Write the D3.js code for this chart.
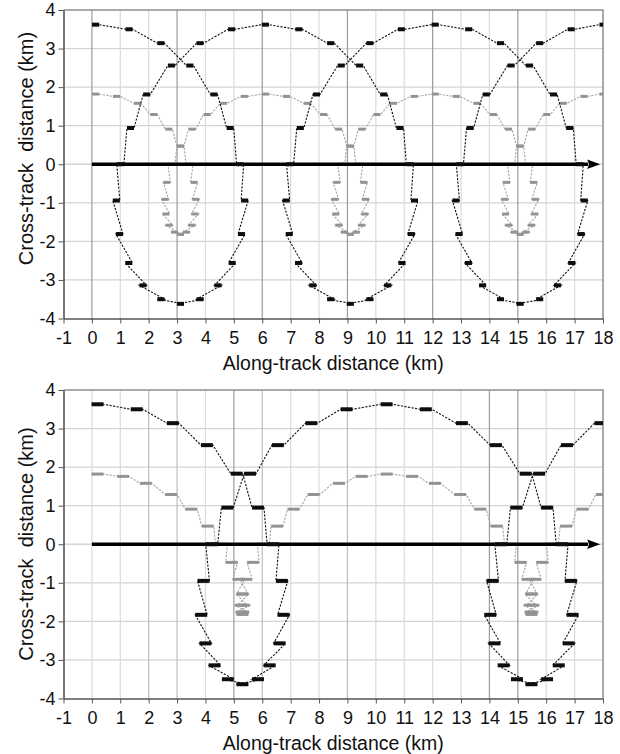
<!DOCTYPE html>
<html>
<head>
<meta charset="utf-8">
<script src="https://cdn.jsdelivr.net/npm/d3@7/dist/d3.min.js"></script>
<style>
  html, body { margin: 0; padding: 0; background: #fff; }
  svg text { font-family: "Liberation Sans", Arial, Helvetica, sans-serif; fill: #111; }
</style>
</head>
<body>
<svg id="chart" width="620" height="754"></svg>
<script>
// Tick labels shared by both panels (km)
const xTickLabels = [-1,0,1,2,3,4,5,6,7,8,9,10,11,12,13,14,15,16,17,18];
const yTickLabels = [4,3,2,1,0,-1,-2,-3,-4];

// Upper panel: outer scan (black) footprint centres, km
const topOuterX = [
  0.13,1.31,2.43,3.45,4.30,4.87,5.22,5.38,5.27,4.94,4.44,3.81,3.12,2.43,1.80,1.30,0.97,0.86,1.00,1.36,1.93,2.80,3.81,4.92,
  6.11,7.29,8.41,9.43,10.28,10.85,11.20,11.36,11.25,10.92,10.42,9.79,9.10,8.41,7.78,7.28,6.95,6.84,6.98,7.34,7.91,8.78,9.79,10.90,
  12.09,13.27,14.39,15.41,16.26,16.83,17.18,17.34,17.23,16.90,16.40,15.77,15.08,14.39,13.76,13.26,12.93,12.82,12.96,13.32,13.89,14.76,15.77,16.88,
  18.00];
const topOuterY = [
  3.62,3.50,3.14,2.56,1.81,0.94,0,-0.94,-1.81,-2.56,-3.14,-3.50,-3.62,-3.50,-3.14,-2.56,-1.81,-0.94,0,0.94,1.81,2.56,3.14,3.50,
  3.62,3.50,3.14,2.56,1.81,0.94,0,-0.94,-1.81,-2.56,-3.14,-3.50,-3.62,-3.50,-3.14,-2.56,-1.81,-0.94,0,0.94,1.81,2.56,3.14,3.50,
  3.62,3.50,3.14,2.56,1.81,0.94,0,-0.94,-1.81,-2.56,-3.14,-3.50,-3.62,-3.50,-3.14,-2.56,-1.81,-0.94,0,0.94,1.81,2.56,3.14,3.50,
  3.62];

// Upper panel: inner scan (grey)
const topInnerX = [
  0.13,0.87,1.60,2.18,2.71,3.12,3.44,3.60,3.66,3.63,3.52,3.33,3.12,2.91,2.72,2.61,2.58,2.64,2.80,3.12,3.53,4.06,4.64,5.37,
  6.11,6.85,7.58,8.16,8.69,9.10,9.42,9.58,9.64,9.61,9.50,9.31,9.10,8.89,8.70,8.59,8.56,8.62,8.78,9.10,9.51,10.04,10.62,11.35,
  12.09,12.83,13.56,14.14,14.67,15.08,15.40,15.56,15.62,15.59,15.48,15.29,15.08,14.87,14.68,14.57,14.54,14.60,14.76,15.08,15.49,16.02,16.60,17.33,
  18.00];
const topInnerY = [
  1.82,1.76,1.58,1.29,0.91,0.47,0,-0.47,-0.91,-1.29,-1.58,-1.76,-1.82,-1.76,-1.58,-1.29,-0.91,-0.47,0,0.47,0.91,1.29,1.58,1.76,
  1.82,1.76,1.58,1.29,0.91,0.47,0,-0.47,-0.91,-1.29,-1.58,-1.76,-1.82,-1.76,-1.58,-1.29,-0.91,-0.47,0,0.47,0.91,1.29,1.58,1.76,
  1.82,1.76,1.58,1.29,0.91,0.47,0,-0.47,-0.91,-1.29,-1.58,-1.76,-1.82,-1.76,-1.58,-1.29,-0.91,-0.47,0,0.47,0.91,1.29,1.58,1.76,
  1.82];

// Lower panel: outer scan (black)
const bottomOuterX = [
  0.20,1.58,2.85,4.05,5.10,5.85,6.38,6.69,6.75,6.61,6.26,5.85,5.30,4.79,4.32,4.00,3.85,3.93,4.22,4.77,5.57,6.55,7.73,8.97,
  10.38,11.76,13.03,14.23,15.28,16.03,16.56,16.87,16.93,16.79,16.44,16.03,15.48,14.97,14.50,14.18,14.03,14.11,14.40,14.95,15.75,16.73,17.91];
const bottomOuterY = [
  3.63,3.50,3.14,2.57,1.83,0.95,0,-0.95,-1.83,-2.57,-3.14,-3.50,-3.63,-3.50,-3.14,-2.57,-1.83,-0.95,0,0.95,1.83,2.57,3.14,3.50,
  3.63,3.50,3.14,2.57,1.83,0.95,0,-0.95,-1.83,-2.57,-3.14,-3.50,-3.63,-3.50,-3.14,-2.57,-1.83,-0.95,0,0.95,1.83,2.57,3.14];

// Lower panel: inner scan (grey)
const bottomInnerX = [
  0.20,1.10,1.90,2.79,3.50,4.08,4.56,4.92,5.17,5.31,5.35,5.33,5.30,5.27,5.25,5.29,5.43,5.68,6.04,6.52,7.10,7.81,8.70,9.50,
  10.38,11.28,12.08,12.97,13.68,14.26,14.74,15.10,15.35,15.49,15.53,15.51,15.48,15.45,15.43,15.47,15.61,15.86,16.22,16.70,17.28,17.96];
const bottomInnerY = [
  1.82,1.76,1.58,1.29,0.91,0.47,0,-0.47,-0.91,-1.29,-1.58,-1.76,-1.82,-1.76,-1.58,-1.29,-0.91,-0.47,0,0.47,0.91,1.29,1.58,1.76,
  1.82,1.76,1.58,1.29,0.91,0.47,0,-0.47,-0.91,-1.29,-1.58,-1.76,-1.82,-1.76,-1.58,-1.29,-0.91,-0.47,0,0.47,0.91,1.29];

// Ground-track arrow extent (km)
const trackStart = 0, trackEnd = 17.9;

// Panel geometry and styling
const panels = [
  { outer: [topOuterX, topOuterY], inner: [topInnerX, topInnerY], smear: 0.25,
    left: 63.5, right: 603, top: 10, bottom: 318.5,
    titleBase: 369.5, yTitleMid: 148.5,
    darkCols: [0,3,6,9,12,15], midCols: [] },
  { outer: [bottomOuterX, bottomOuterY], inner: [bottomInnerX, bottomInnerY], smear: 0.42,
    left: 63.5, right: 603, top: 390, bottom: 698.5,
    titleBase: 749.5, yTitleMid: 544,
    darkCols: [5,14,15], midCols: [2,3,6,9] }
];

const svg = d3.select('#chart');

panels.forEach((p, i) => {
  const x = d3.scaleLinear().domain([-1, 18]).range([p.left, p.right]);
  const y = d3.scaleLinear().domain([-4, 4]).range([p.bottom, p.top]);
  const g = svg.append('g');

  const clipId = 'plot-clip-' + i;
  g.append('clipPath').attr('id', clipId).append('rect')
    .attr('x', p.left).attr('y', p.top)
    .attr('width', p.right - p.left).attr('height', p.bottom - p.top);

  // Grid
  g.append('g').selectAll('line')
    .data(yTickLabels.filter(v => v > -4 && v < 4)).join('line')
    .attr('x1', p.left).attr('x2', p.right)
    .attr('y1', d => y(d)).attr('y2', d => y(d))
    .attr('stroke', '#d4d4d4').attr('stroke-width', 1.3);
  g.append('g').selectAll('line')
    .data(xTickLabels.filter(v => v > -1 && v < 18)).join('line')
    .attr('x1', d => x(d)).attr('x2', d => x(d))
    .attr('y1', p.top).attr('y2', p.bottom)
    .attr('stroke', d => p.darkCols.includes(d) ? '#9c9c9c' : (p.midCols.includes(d) ? '#bdbdbd' : '#dadada'))
    .attr('stroke-width', 1.2);

  // Frame (top and right)
  g.append('path')
    .attr('d', `M${p.left},${p.top}H${p.right}V${p.bottom}`)
    .attr('fill', 'none').attr('stroke', '#8e8e8e').attr('stroke-width', 1.5);

  // Axes
  const ax = g.append('g').attr('transform', `translate(0,${p.bottom})`)
    .call(d3.axisBottom(x).tickValues(xTickLabels).tickSize(5).tickSizeOuter(0)
      .tickPadding(8).tickFormat(d => String(d)))
    .attr('font-size', 18).attr('color', '#555');
  ax.select('.domain').attr('stroke-width', 1.6);
  const ay = g.append('g').attr('transform', `translate(${p.left},0)`)
    .call(d3.axisLeft(y).tickValues(yTickLabels).tickSize(5).tickSizeOuter(0)
      .tickPadding(3).tickFormat(d => String(d)))
    .attr('font-size', 18).attr('color', '#555');
  ay.select('.domain').attr('stroke-width', 1.6);

  // Axis titles
  g.append('text')
    .attr('x', (p.left + p.right) / 2).attr('y', p.titleBase)
    .attr('text-anchor', 'middle').attr('font-size', 19.5)
    .text('Along-track distance (km)');
  g.append('text')
    .attr('transform', `translate(32.5,${p.yTitleMid}) rotate(-90)`)
    .attr('text-anchor', 'middle').attr('font-size', 20)
    .attr('xml:space', 'preserve').style('white-space', 'pre')
    .text('Cross-track  distance (km)');

  const plot = g.append('g').attr('clip-path', `url(#${clipId})`);

  // One scan track: a dashed path running through each sample's smear,
  // then a bar for every sample
  function drawTrack(xs, ys, lineColor, barColor, barH) {
    const pts = d3.zip(xs, ys);
    const half = p.smear / 2;
    const ends = pts.flatMap(([px, py]) => [[px - half, py], [px + half, py]]);
    const line = d3.line().x(d => x(d[0])).y(d => y(d[1]));
    plot.append('path').datum(ends)
      .attr('d', line)
      .attr('fill', 'none').attr('stroke', lineColor)
      .attr('stroke-width', 1.1).attr('stroke-dasharray', '2.2,1.4');
    plot.append('g').selectAll('rect').data(pts).join('rect')
      .attr('x', d => x(d[0] - half))
      .attr('width', d => x(d[0] + half) - x(d[0] - half))
      .attr('y', d => y(d[1]) - barH / 2)
      .attr('height', barH)
      .attr('fill', barColor);
  }

  drawTrack(p.inner[0], p.inner[1], '#a3a3a3', '#939393', 3);

  // Ground track arrow
  const y0 = y(0), tip = x(trackEnd), headLen = 13, headHalf = 4.8;
  plot.append('line')
    .attr('x1', x(trackStart)).attr('x2', tip - headLen + 1)
    .attr('y1', y0).attr('y2', y0)
    .attr('stroke', '#000').attr('stroke-width', 3.6);
  plot.append('path')
    .attr('d', `M${tip},${y0}L${tip - headLen},${y0 - headHalf}L${tip - headLen + 2},${y0}L${tip - headLen},${y0 + headHalf}Z`)
    .attr('fill', '#000');

  drawTrack(p.outer[0], p.outer[1], '#111', '#0d0d0d', 4);
});
</script>
</body>
</html>
